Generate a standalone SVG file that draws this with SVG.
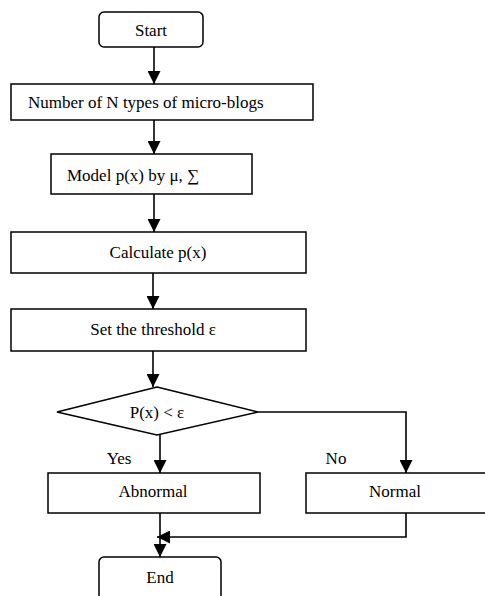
<svg xmlns="http://www.w3.org/2000/svg" width="485" height="596" viewBox="0 0 485 596" font-family="'Liberation Serif', 'DejaVu Serif', serif">
<style>
.box{fill:#fff;stroke:#000;stroke-width:1.5}
.ln{fill:none;stroke:#000;stroke-width:1.6}
text{font-family:'Liberation Serif','DejaVu Serif',serif;font-size:17px;fill:#000;dominant-baseline:central}
.c{text-anchor:middle}
</style>
<defs>
<marker id="ah" viewBox="0 0 10 10" refX="10" refY="5" markerWidth="13" markerHeight="13" markerUnits="userSpaceOnUse" orient="auto">
<path d="M0,0 L10,5 L0,10 z" fill="#000"/>
</marker>
</defs>
<rect width="485" height="596" fill="#fff"/>
<g id="connectors">
<line class="ln" x1="154" y1="47" x2="154" y2="84" marker-end="url(#ah)"/>
<line class="ln" x1="154" y1="120" x2="154" y2="154" marker-end="url(#ah)"/>
<line class="ln" x1="154" y1="194" x2="154" y2="232" marker-end="url(#ah)"/>
<line class="ln" x1="153" y1="273" x2="153" y2="309" marker-end="url(#ah)"/>
<line class="ln" x1="153" y1="351" x2="153" y2="387" marker-end="url(#ah)"/>
<line class="ln" x1="160" y1="435" x2="160" y2="473" marker-end="url(#ah)"/>
<polyline class="ln" points="258,412 406,412 406,473" marker-end="url(#ah)"/>
<line class="ln" x1="160" y1="513" x2="160" y2="557" marker-end="url(#ah)"/>
<polyline class="ln" points="406,513 406,537 157,537" marker-end="url(#ah)"/>
</g>
<g id="start">
<rect class="box" x="99" y="12" width="104" height="35" rx="5"/>
<text class="c" x="151" y="30">Start</text>
</g>
<g id="number">
<rect class="box" x="11" y="84" width="302" height="36"/>
<text x="28" y="102">Number of N types of micro-blogs</text>
</g>
<g id="model">
<rect class="box" x="51" y="154" width="201" height="40"/>
<text x="67" y="175">Model p(x) by μ, ∑</text>
</g>
<g id="calculate">
<rect class="box" x="11" y="232" width="295" height="41"/>
<text class="c" x="158" y="252">Calculate p(x)</text>
</g>
<g id="threshold">
<rect class="box" x="11" y="309" width="295" height="42"/>
<text class="c" x="153" y="329">Set the threshold ε</text>
</g>
<g id="decision">
<polygon class="box" points="157,387 258,412 157,435 57,412"/>
<text class="c" x="157" y="412">P(x) &lt; ε</text>
</g>
<g id="labels">
<text class="c" x="119" y="458">Yes</text>
<text class="c" x="336" y="458">No</text>
</g>
<g id="abnormal">
<rect class="box" x="48" y="473" width="212" height="40"/>
<text class="c" x="153" y="491">Abnormal</text>
</g>
<g id="normal">
<rect class="box" x="306" y="473" width="190" height="40"/>
<text class="c" x="395" y="491">Normal</text>
</g>
<g id="end">
<rect class="box" x="99" y="557" width="122" height="44" rx="5"/>
<text class="c" x="160" y="577">End</text>
</g>
</svg>
